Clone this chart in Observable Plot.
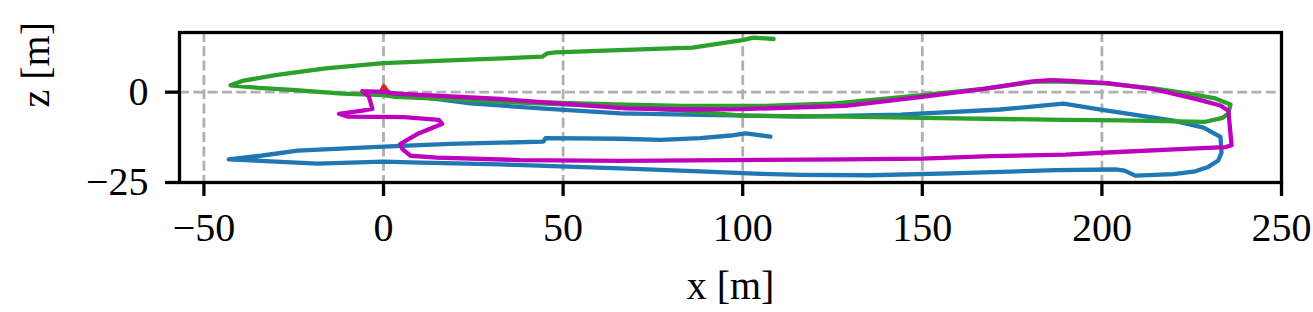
<!DOCTYPE html>
<html>
<head>
<meta charset="utf-8">
<script src="https://cdn.jsdelivr.net/npm/d3@7"></script>
<script src="https://cdn.jsdelivr.net/npm/@observablehq/plot@0.6"></script>
<style>
  html, body { margin: 0; padding: 0; background: #fff; }
  #chart svg { display: block; }
</style>
</head>
<body>
<div id="chart"></div>
<script>
// ---- data (x, z in metres) ----
const blueX = [0, 24.2, 43.7, 66.0, 88.2, 116.1, 143.9, 171.7, 189.3, 201.5, 219.9, 228.3, 233.0, 233.3, 232.4, 229.4, 226.0, 219.9, 209.3, 206.3, 203.8, 187.1, 157.8, 135.6, 116.1, 105.0, 88.2, 66.0, 32.6, 10.3, 0, -18.4, -34.2, -43.1, -34.2, -23.9, 0, 18.6, 44.5, 45.1, 66.0, 77.1, 88.2, 96.6, 100.8, 107.7];
const blueZ = [0, -3.1, -4.5, -5.9, -6.3, -6.75, -6.2, -4.8, -3.2, -5.1, -7.9, -9.8, -12.4, -16.75, -18.9, -20.8, -21.9, -22.7, -23.1, -21.7, -21.4, -21.6, -22.5, -23.0, -22.9, -22.6, -21.9, -21.1, -20.0, -19.5, -19.2, -19.8, -19.0, -18.6, -17.6, -16.2, -15.1, -14.3, -13.7, -12.7, -12.9, -13.2, -12.7, -12.0, -11.4, -12.3];

const greenX = [0, 10.3, 24.2, 66.0, 83.2, 99.9, 128.6, 150.0, 189.8, 205.7, 228.8, 233.6, 235.2, 235.8, 231.6, 224.1, 214.9, 201.0, 187.1, 181.5, 167.6, 150.0, 125.8, 106.3, 83.2, 64.6, 31.2, 3.3, 0, -11.5, -25.4, -34.8, -42.6, -39.3, -30.1, -16.1, 0, 21.9, 44.2, 45.6, 47.9, 67.4, 86.0, 99.9, 103.0, 108.6];
const greenZ = [0, -1.5, -2.3, -4.0, -5.1, -6.5, -6.8, -7.1, -7.7, -7.8, -8.2, -7.1, -5.9, -3.4, -1.75, -0.4, 1.0, 2.4, 3.0, 2.9, 1.0, -0.8, -3.1, -3.8, -3.8, -3.4, -2.5, -1.3, -0.8, -0.4, 0.6, 1.2, 1.9, 3.1, 4.7, 6.6, 8.0, 8.9, 9.8, 10.75, 11.0, 11.7, 12.3, 14.4, 15.1, 14.7];

const redX = [-0.8, 0.1, 1.2];
const redZ = [0.0, 1.6, 0.1];

const magentaX = [-5.9, 0, 3.3, 32.6, 67.4, 83.2, 99.9, 128.6, 150.0, 167.6, 180.1, 185.7, 191.2, 201.5, 213.5, 221.9, 227.4, 233.0, 235.2, 236.1, 234.4, 224.6, 201.5, 189.8, 169.0, 150.0, 128.6, 66.0, 38.1, 14.9, 7.5, 5.2, 4.7, 9.4, 14.0, 16.3, 15.4, 5.7, -10.1, -12.4, -5.9, -3.1, -4.1, -5.9];
const magentaZ = [0.3, 0.1, -0.4, -1.9, -4.5, -4.8, -4.7, -3.8, -1.3, 1.0, 2.9, 3.3, 3.1, 2.5, 1.0, -0.9, -2.2, -3.7, -5.1, -14.7, -15.2, -15.6, -16.7, -17.3, -17.7, -18.4, -18.6, -19.0, -18.8, -18.1, -17.6, -15.7, -14.3, -11.6, -9.7, -8.8, -7.7, -6.9, -6.75, -6.0, -5.1, -4.6, -1.2, 0.3];

const xTicks = [-50, 0, 50, 100, 150, 200, 250];
const yTicks = [-25, 0];
const xLabel = "x [m]";
const yLabel = "z [m]";

// ---- build tables ----
const toRows = (xs, zs) => xs.map((x, i) => ({x, z: zs[i]}));
const series = [
  {rows: toRows(blueX, blueZ), color: "#1f77b4"},
  {rows: toRows(greenX, greenZ), color: "#2ca02c"},
  {rows: toRows(redX, redZ), color: "#d62728"},
  {rows: toRows(magentaX, magentaZ), color: "#bf00bf"}
];

const font = "'Liberation Serif', 'Times New Roman', serif";
const fs = 40;

const chart = Plot.plot({
  width: 1313,
  height: 312,
  marginLeft: 179,
  marginRight: 32,
  marginTop: 32,
  marginBottom: 130,
  style: {fontFamily: font, fontSize: fs + "px", color: "black", background: "white"},
  x: {domain: [-56.8, 250]},
  y: {domain: [-25, 16.5]},
  marks: [
    Plot.gridX(xTicks, {stroke: "#b0b0b0", strokeOpacity: 1, strokeWidth: 2.8, strokeDasharray: "10,4.3"}),
    Plot.gridY(yTicks, {stroke: "#b0b0b0", strokeOpacity: 1, strokeWidth: 2.8, strokeDasharray: "10,4.3"}),
    ...series.map(s => Plot.line(s.rows, {x: "x", y: "z", stroke: s.color, strokeWidth: 4.3, strokeLinejoin: "round", strokeLinecap: "round"})),
    Plot.frame({stroke: "black", strokeWidth: 3.3}),
    Plot.axisX(xTicks, {tickSize: 14, tickPadding: 16, strokeWidth: 3.3, label: null, fontSize: fs}),
    Plot.axisY(yTicks, {tickSize: 14, tickPadding: 17, strokeWidth: 3.3, label: null, fontSize: fs}),
    Plot.text([xLabel], {frameAnchor: "bottom", dy: 116, fontSize: fs, fill: "black"}),
    Plot.text([yLabel], {frameAnchor: "left", dx: -143, rotate: -90, fontSize: fs, fill: "black"})
  ]
});
document.getElementById("chart").appendChild(chart);
</script>
</body>
</html>
